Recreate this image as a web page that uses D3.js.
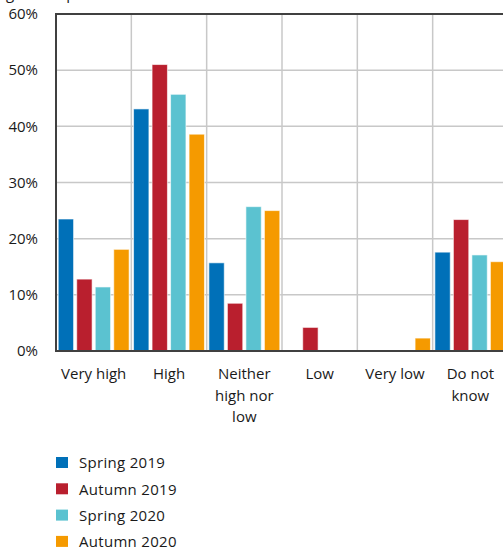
<!DOCTYPE html>
<html>
<head>
<meta charset="utf-8">
<script src="https://cdn.jsdelivr.net/npm/d3@7"></script>
<style>
	body { margin: 0; background: #fff; }
	svg { display: block; font-family: "Open Sans", Lato, sans-serif; }
</style>
</head>
<body>
<div id="chart"></div>
<script>
// answers by category, one array per survey
var categories = [["Very high"], ["High"], ["Neither", "high nor", "low"], ["Low"], ["Very low"], ["Do not", "know"]];
var seriesNames = ["Spring 2019", "Autumn 2019", "Spring 2020", "Autumn 2020"];
var seriesColors = ["#0070b8", "#b91f2e", "#5bc2d0", "#f59a00"];
var spring2019 = [23.5, 43.1, 15.7, 0, 0, 17.6];
var autumn2019 = [12.8, 51.0, 8.5, 4.2, 0, 23.4];
var spring2020 = [11.4, 45.7, 25.7, 0, 0, 17.1];
var autumn2020 = [18.1, 38.6, 25.0, 0, 2.3, 15.9];
var yTicks = [0, 10, 20, 30, 40, 50, 60];

var allSeries = [spring2019, autumn2019, spring2020, autumn2020];

var W = 503, H = 554,
	margin = {top: 14, left: 56},
	plotW = 452, plotH = 337,
	fs = 15;

var svg = d3.select('#chart').append('svg').attr('width', W).attr('height', H);

// title is cut off by the frame, only descenders show
svg.append('text').attr('x', -56).attr('y', -1).attr('font-size', fs).attr('fill', '#1a1a1a')
	.text('Percentage of respondents');

var g = svg.append('g').attr('transform', 'translate(' + margin.left + ',' + margin.top + ')');

var x = d3.scaleBand().domain(d3.range(categories.length)).range([0, plotW]).padding(0);
var xs = d3.scaleBand().domain(d3.range(seriesNames.length)).range([0, x.bandwidth()])
	.paddingInner(0.17).paddingOuter(0.12);
var y = d3.scaleLinear().domain([0, 60]).range([plotH, 0]);

// grid
g.selectAll('line.hgrid').data(yTicks.slice(1, -1)).enter().append('line')
	.attr('class', 'hgrid')
	.attr('x1', 0).attr('x2', plotW)
	.attr('y1', function (d) { return y(d); }).attr('y2', function (d) { return y(d); })
	.attr('stroke', '#c8c8c8').attr('stroke-width', 1.5);

g.selectAll('line.vgrid').data(d3.range(1, categories.length)).enter().append('line')
	.attr('class', 'vgrid')
	.attr('x1', function (d) { return x(d); }).attr('x2', function (d) { return x(d); })
	.attr('y1', 0).attr('y2', plotH)
	.attr('stroke', '#c8c8c8').attr('stroke-width', 1.5);

// bars
var groups = g.selectAll('g.cat').data(categories).enter().append('g')
	.attr('class', 'cat')
	.attr('transform', function (d, i) { return 'translate(' + x(i) + ',0)'; });

groups.selectAll('rect').data(function (d, i) {
		return allSeries.map(function (s, k) { return {k: k, v: s[i]}; }).filter(function (b) { return b.v > 0; });
	}).enter().append('rect')
	.attr('x', function (d) { return xs(d.k); })
	.attr('width', xs.bandwidth())
	.attr('y', function (d) { return y(d.v); })
	.attr('height', function (d) { return plotH - y(d.v); })
	.attr('fill', function (d) { return seriesColors[d.k]; })
	.attr('stroke', 'rgba(255,255,255,0.6)').attr('stroke-width', 1);

// axes frame
g.append('line').attr('x1', 0).attr('x2', plotW).attr('y1', 0).attr('y2', 0)
	.attr('stroke', '#404040').attr('stroke-width', 2);
g.append('line').attr('x1', 0).attr('x2', plotW).attr('y1', plotH).attr('y2', plotH)
	.attr('stroke', '#404040').attr('stroke-width', 2);
g.append('line').attr('x1', 0).attr('x2', 0).attr('y1', -1).attr('y2', plotH + 1)
	.attr('stroke', '#404040').attr('stroke-width', 2);

// y labels
g.selectAll('text.ylab').data(yTicks).enter().append('text')
	.attr('class', 'ylab')
	.attr('x', -18).attr('y', function (d) { return y(d); })
	.attr('dy', '0.35em').attr('text-anchor', 'end')
	.attr('font-size', fs).attr('fill', '#1a1a1a')
	.text(function (d) { return d + '%'; });

// category labels
var clab = g.selectAll('text.xlab').data(categories).enter().append('text')
	.attr('class', 'xlab')
	.attr('x', function (d, i) { return x(i) + x.bandwidth() / 2; })
	.attr('y', plotH + 28)
	.attr('text-anchor', 'middle').attr('font-size', fs).attr('fill', '#1a1a1a');

clab.selectAll('tspan').data(function (d) { return d; }).enter().append('tspan')
	.attr('x', function () { return d3.select(this.parentNode).attr('x'); })
	.attr('dy', function (d, i) { return i ? 21.5 : 0; })
	.text(function (d) { return d; });

// legend
var leg = svg.selectAll('g.leg').data(seriesNames).enter().append('g')
	.attr('class', 'leg')
	.attr('transform', function (d, i) { return 'translate(56,' + (463 + i * 26.3) + ')'; });

leg.append('rect').attr('x', 0).attr('y', -6).attr('width', 12).attr('height', 11)
	.attr('fill', function (d, i) { return seriesColors[i]; });
leg.append('text').attr('x', 23).attr('y', 0).attr('dy', '0.35em')
	.attr('font-size', fs).attr('letter-spacing', 0.3).attr('fill', '#1a1a1a')
	.text(function (d) { return d; });
</script>
</body>
</html>
